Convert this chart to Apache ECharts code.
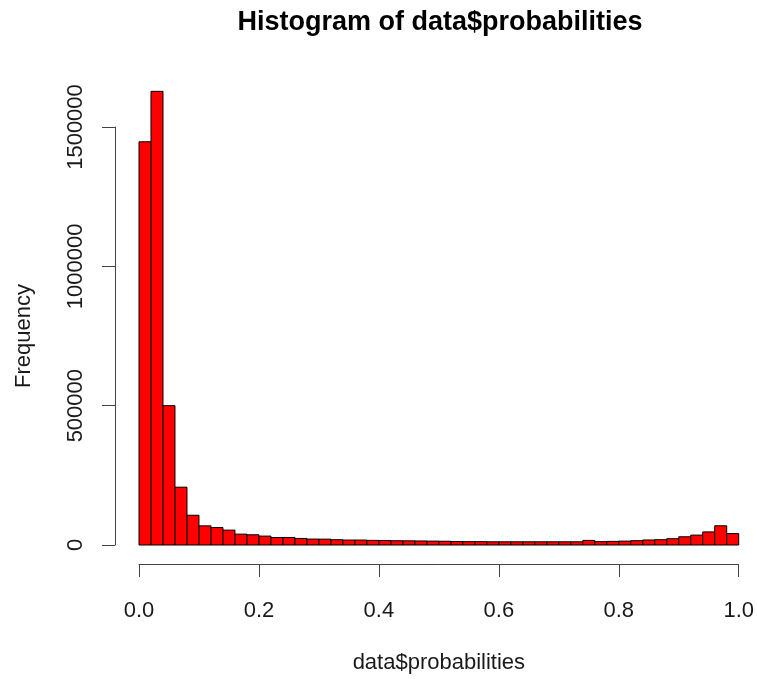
<!DOCTYPE html>
<html>
<head>
<meta charset="utf-8">
<script src="https://cdn.jsdelivr.net/npm/echarts@6/dist/echarts.min.js"></script>
<style>
  html, body { margin: 0; padding: 0; background: #ffffff; }
  #chart { width: 757px; height: 679px; }
</style>
</head>
<body>
<div id="chart"></div>
<script>
// Histogram bin breaks (width 0.02) and the count in each bin
const binBreaks = [
  0.00, 0.02, 0.04, 0.06, 0.08, 0.10, 0.12, 0.14, 0.16, 0.18,
  0.20, 0.22, 0.24, 0.26, 0.28, 0.30, 0.32, 0.34, 0.36, 0.38,
  0.40, 0.42, 0.44, 0.46, 0.48, 0.50, 0.52, 0.54, 0.56, 0.58,
  0.60, 0.62, 0.64, 0.66, 0.68, 0.70, 0.72, 0.74, 0.76, 0.78,
  0.80, 0.82, 0.84, 0.86, 0.88, 0.90, 0.92, 0.94, 0.96, 0.98, 1.00
];
const binCounts = [
  1447000, 1628000, 500000, 207500, 106800, 68700, 62600, 53400, 39000, 36700,
  32000, 27000, 27000, 23500, 21300, 21000, 18900, 17800, 17800, 16600,
  16000, 15300, 15000, 14500, 14000, 13500, 12500, 12000, 12000, 11500,
  11500, 11500, 11500, 11500, 11500, 11500, 11500, 16500, 12000, 13000,
  14000, 15500, 18000, 19000, 22500, 29500, 35500, 47000, 69000, 41000
];
const xTicks = [0, 0.2, 0.4, 0.6, 0.8, 1.0];
const yTicks = [0, 500000, 1000000, 1500000];

const histData = binCounts.map((c, i) => [binBreaks[i], binBreaks[i + 1], c]);

const FONT = '"Liberation Sans", Arial, Helvetica, sans-serif';
const AXIS_COLOR = '#444444';
const TEXT_COLOR = '#1a1a1a';

const chart = echarts.init(document.getElementById('chart'), null, { renderer: 'canvas' });

chart.setOption({
  animation: false,
  backgroundColor: '#ffffff',
  title: {
    text: 'Histogram of data$probabilities',
    left: 435,
    textAlign: 'center',
    top: 4,
    textStyle: { fontFamily: FONT, fontWeight: 'bold', fontSize: 27, color: '#000000' }
  },
  grid: { left: 139, right: 17, top: 127, bottom: 131, containLabel: false },
  xAxis: {
    type: 'value',
    position: 'bottom',
    min: 0,
    max: 1,
    interval: 0.2,
    offset: 19,
    splitLine: { show: false },
    axisLine: { show: true, onZero: false, lineStyle: { color: AXIS_COLOR, width: 1 } },
    axisTick: { show: true, inside: false, length: 13, lineStyle: { color: AXIS_COLOR, width: 1 } },
    axisLabel: {
      margin: 36,
      fontFamily: FONT, fontSize: 22, color: TEXT_COLOR,
      formatter: v => xTicks.includes(+v.toFixed(1)) ? v.toFixed(1) : ''
    },
    name: 'data$probabilities',
    nameLocation: 'middle',
    nameGap: 88,
    nameTextStyle: { fontFamily: FONT, fontSize: 22, color: TEXT_COLOR }
  },
  yAxis: {
    type: 'value',
    position: 'left',
    min: yTicks[0],
    max: yTicks[yTicks.length - 1],
    interval: 500000,
    offset: 24,
    splitLine: { show: false },
    axisLine: { show: true, onZero: false, lineStyle: { color: AXIS_COLOR, width: 1 } },
    axisTick: { show: true, inside: false, length: 13, lineStyle: { color: AXIS_COLOR, width: 1 } },
    axisLabel: {
      rotate: 90,
      margin: 28,
      fontFamily: FONT, fontSize: 22, color: TEXT_COLOR,
      formatter: v => String(v)
    },
    name: 'Frequency',
    nameLocation: 'middle',
    nameRotate: 90,
    nameGap: 80,
    nameTextStyle: { fontFamily: FONT, fontSize: 22, color: TEXT_COLOR }
  },
  series: [{
    type: 'custom',
    clip: false,
    data: histData,
    encode: { x: [0, 1], y: 2 },
    renderItem: function (params, api) {
      const p0 = api.coord([api.value(0), api.value(2)]);
      const p1 = api.coord([api.value(1), 0]);
      return {
        type: 'rect',
        shape: { x: p0[0], y: p0[1], width: p1[0] - p0[0], height: p1[1] - p0[1] },
        style: { fill: '#ff0000', stroke: '#000000', lineWidth: 1 }
      };
    }
  }]
});
</script>
</body>
</html>
